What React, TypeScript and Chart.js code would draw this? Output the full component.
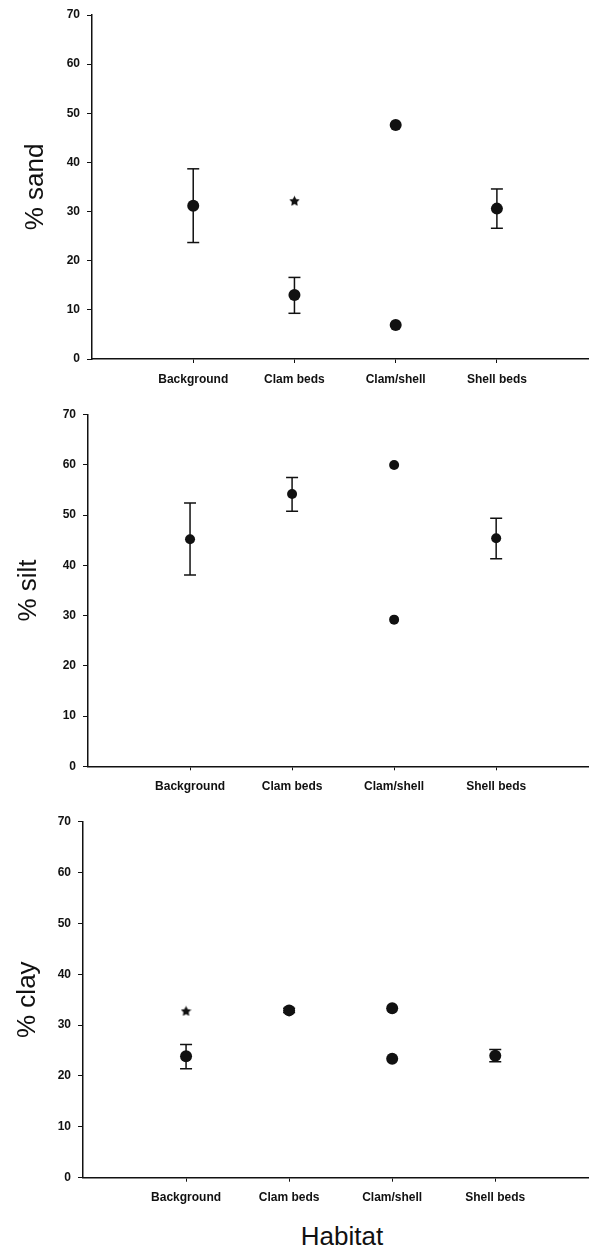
import React, { useEffect, useRef } from 'react';
import { Chart, registerables } from 'chart.js';

Chart.register(...registerables);

// ---- data ----
const categories = ['Background', 'Clam beds', 'Clam/shell', 'Shell beds'];
const categoryPositions = [1, 2, 3, 4];
const xMin = 0;
const xMax = 4.9;
const yMin = 0;
const yMax = 70;
const yStep = 10;

// x position (category index) of every plotted mean
const pointX = [1, 2, 3, 3, 4];

const sandMean = [31.2, 13.0, 47.6, 6.9, 30.6];
const sandLow = [23.7, 9.3, null, null, 26.6];
const sandHigh = [38.7, 16.6, null, null, 34.6];
const sandStarX = [2];
const sandStarY = [32.2];

const siltMean = [45.2, 54.2, 60.0, 29.2, 45.4];
const siltLow = [38.1, 50.8, null, null, 41.3];
const siltHigh = [52.4, 57.5, null, null, 49.4];
const siltStarX: number[] = [];
const siltStarY: number[] = [];

const clayMean = [23.9, 32.9, 33.3, 23.4, 24.0];
const clayLow = [21.4, 32.5, null, null, 22.8];
const clayHigh = [26.2, 33.3, null, null, 25.2];
const clayStarX = [1];
const clayStarY = [32.8];

const FONT = "'Liberation Sans', Arial, Helvetica, sans-serif";
const INK = '#111';

function makeStar(size: number): HTMLCanvasElement {
  const c = document.createElement('canvas');
  c.width = size;
  c.height = size;
  const ctx = c.getContext('2d')!;
  ctx.fillStyle = INK;
  ctx.beginPath();
  const R = size / 2;
  const r = R * 0.5;
  for (let i = 0; i < 10; i++) {
    const rad = i % 2 === 0 ? R : r;
    const a = -Math.PI / 2 + (i * Math.PI) / 5;
    const px = R + rad * Math.cos(a);
    const py = R + 0.5 + rad * Math.sin(a);
    if (i === 0) ctx.moveTo(px, py);
    else ctx.lineTo(px, py);
  }
  ctx.closePath();
  ctx.fill();
  return c;
}

type PanelProps = {
  title: string;
  mean: number[];
  low: (number | null)[];
  high: (number | null)[];
  starX: number[];
  starY: number[];
  top: number;
  height: number;
  axisWidth: number;
  padTop: number;
  xAxisHeight: number;
  titlePad: number;
  dotRadius: number;
};

function Panel(p: PanelProps) {
  const ref = useRef<HTMLCanvasElement | null>(null);
  useEffect(() => {
    if (!ref.current) return;
    const dots = pointX.map((x, i) => ({ x, y: p.mean[i] }));
    const bars: { x: number; y: number | null }[] = [];
    pointX.forEach((x, i) => {
      const lo = p.low[i];
      const hi = p.high[i];
      if (lo == null || hi == null) return;
      bars.push({ x, y: lo }, { x, y: hi }, { x, y: null });
    });
    const stars = p.starX.map((x, i) => ({ x, y: p.starY[i] }));
    const chart = new Chart(ref.current, {
      type: 'scatter',
      data: {
        datasets: [
          {
            data: dots,
            pointRadius: p.dotRadius,
            pointBackgroundColor: INK,
            pointBorderColor: INK,
            pointBorderWidth: 0,
            showLine: false,
          },
          {
            data: stars,
            pointStyle: makeStar(11),
            pointRadius: 5.5,
            showLine: false,
          },
          {
            data: bars as any,
            showLine: true,
            spanGaps: false,
            borderColor: INK,
            borderWidth: 1.5,
            pointStyle: 'line',
            pointRadius: 6,
            pointBorderColor: INK,
            pointBorderWidth: 1.5,
          },
        ],
      },
      options: {
        animation: false,
        responsive: false,
        maintainAspectRatio: false,
        layout: { autoPadding: false, padding: { top: p.padTop, right: 1, left: 0, bottom: 0 } },
        plugins: { legend: { display: false }, tooltip: { enabled: false } },
        scales: {
          x: {
            type: 'linear',
            min: xMin,
            max: xMax,
            afterBuildTicks: (scale: any) => {
              scale.ticks = categoryPositions.map((v) => ({ value: v }));
            },
            afterFit: (scale: any) => {
              scale.height = p.xAxisHeight;
              scale.paddingLeft = 0;
              scale.paddingRight = 0;
            },
            grid: {
              display: true,
              drawOnChartArea: false,
              drawTicks: true,
              tickLength: 4,
              color: INK,
              lineWidth: 1,
            },
            border: { display: true, color: INK, width: 1.5 },
            ticks: {
              autoSkip: false,
              maxRotation: 0,
              padding: 9,
              color: INK,
              font: { family: FONT, size: 12, weight: 'bold' },
              callback: (v: any) => {
                const idx = categoryPositions.indexOf(Number(v));
                return idx >= 0 ? categories[idx] : '';
              },
            },
          },
          y: {
            type: 'linear',
            min: yMin,
            max: yMax,
            afterFit: (scale: any) => {
              scale.width = p.axisWidth;
              scale.paddingTop = 0;
              scale.paddingBottom = 0;
            },
            grid: {
              display: true,
              drawOnChartArea: false,
              drawTicks: true,
              tickLength: 5,
              color: INK,
              lineWidth: 1,
            },
            border: { display: true, color: INK, width: 1.5 },
            ticks: {
              stepSize: yStep,
              padding: 7,
              color: INK,
              font: { family: FONT, size: 12, weight: 'bold' },
            },
            title: {
              display: true,
              text: p.title,
              color: INK,
              font: { family: FONT, size: 26, weight: 'normal' },
              padding: { top: p.titlePad, bottom: 0 },
            },
          },
        },
      },
    } as any);
    return () => chart.destroy();
  }, []);
  return (
    <canvas
      ref={ref}
      width={589}
      height={p.height}
      style={{ position: 'absolute', left: 0, top: p.top, width: 589, height: p.height }}
    />
  );
}

export default function App() {
  return (
    <div style={{ position: 'absolute', left: 0, top: 0, width: 589, height: 1251, overflow: 'hidden', background: '#fff' }}>
      <Panel
        title="% sand"
        mean={sandMean}
        low={sandLow}
        high={sandHigh}
        starX={sandStarX}
        starY={sandStarY}
        top={0}
        height={400}
        axisWidth={92}
        padTop={15}
        xAxisHeight={41}
        titlePad={20}
        dotRadius={6}
      />
      <Panel
        title="% silt"
        mean={siltMean}
        low={siltLow}
        high={siltHigh}
        starX={siltStarX}
        starY={siltStarY}
        top={400}
        height={405}
        axisWidth={88}
        padTop={14.7}
        xAxisHeight={38.7}
        titlePad={13}
        dotRadius={5}
      />
      <Panel
        title="% clay"
        mean={clayMean}
        low={clayLow}
        high={clayHigh}
        starX={clayStarX}
        starY={clayStarY}
        top={805}
        height={410}
        axisWidth={83}
        padTop={16.7}
        xAxisHeight={37.3}
        titlePad={12}
        dotRadius={6}
      />
      <div
        style={{
          position: 'absolute',
          left: 242,
          top: 1222,
          width: 200,
          textAlign: 'center',
          fontFamily: FONT,
          fontSize: 26,
          lineHeight: '28px',
          color: INK,
        }}
      >
        Habitat
      </div>
    </div>
  );
}
